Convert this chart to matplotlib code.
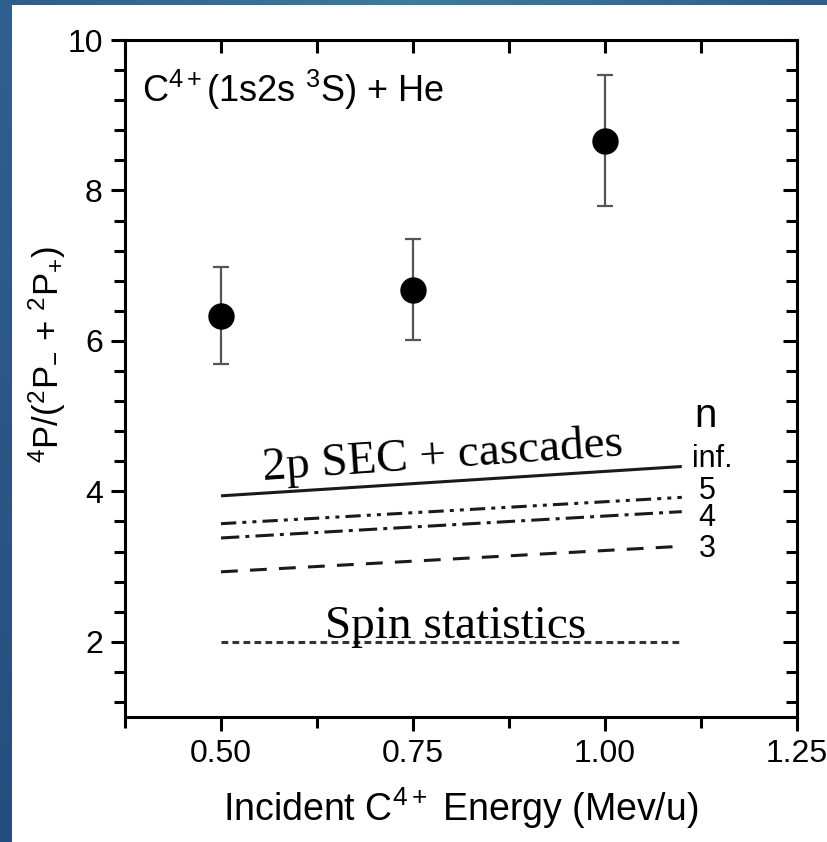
import numpy as np
import matplotlib
matplotlib.use("Agg")
import matplotlib.pyplot as plt
from matplotlib.ticker import MultipleLocator

plt.rcParams['font.family'] = ['Liberation Sans', 'DejaVu Sans']
plt.rcParams['mathtext.fontset'] = 'custom'
plt.rcParams['mathtext.rm'] = 'Liberation Sans'
plt.rcParams['mathtext.it'] = 'Liberation Sans:italic'

# measured ratios
energy = [0.50, 0.75, 1.00]
ratio = [6.33, 6.68, 8.66]
err_low = [5.69, 6.01, 7.79]
err_high = [6.98, 7.35, 9.53]

# theory lines (start / end at 0.5 and 1.1 MeV/u)
line_x = [0.50, 1.10]
line_inf = [3.94, 4.33]
line_n5 = [3.57, 3.92]
line_n4 = [3.38, 3.73]
line_n3 = [2.93, 3.27]
spin_stat = [2.0, 2.0]

n_labels = ["inf.", "5", "4", "3"]
n_label_y = [4.43, 4.01, 3.64, 3.24]

fig = plt.figure(figsize=(8.28, 8.42), dpi=100)

# slide background strips
bg = fig.add_axes([0, 0, 1, 1], zorder=-10)
bg.axis('off')
grad = np.linspace(0, 1, 256).reshape(-1, 1)
bg.imshow(grad, extent=[0, 12, 842, 0], aspect='auto',
          cmap=matplotlib.colors.LinearSegmentedColormap.from_list('l', ['#2f6190', '#264d7f']))
gradx = np.concatenate([np.linspace(0, 1, 128), np.linspace(1, 0, 128)]).reshape(1, -1)
bg.imshow(gradx, extent=[0, 828, 5, 0], aspect='auto',
          cmap=matplotlib.colors.LinearSegmentedColormap.from_list('t', ['#2c5e8e', '#3a7c9e']))
bg.set_xlim(0, 828)
bg.set_ylim(842, 0)

ax = fig.add_axes([125 / 828, 1 - 717 / 842, (797 - 125) / 828, (717 - 40) / 842])

ink = '#1a1a1a'
ax.plot(line_x, line_inf, color=ink, lw=2.2, solid_capstyle='butt')
ax.plot(line_x, line_n5, color=ink, lw=2.2, linestyle=(0, (5, 2, 1.3, 2, 1.3, 2)))
ax.plot(line_x, line_n4, color=ink, lw=2.2, linestyle=(0, (6, 2, 1.3, 2)))
ax.plot(line_x, line_n3, color=ink, lw=2.2, linestyle=(0, (5.5, 4)))
ax.plot(line_x, spin_stat, color='#333333', lw=2.2, linestyle=(0, (2.2, 1.4)))

yerr = [np.array(ratio) - np.array(err_low), np.array(err_high) - np.array(ratio)]
ax.errorbar(energy, ratio, yerr=yerr, fmt='o', color='black', ms=18,
            ecolor='#555555', elinewidth=1.6, capsize=6, capthick=1.6, zorder=5)

ax.set_xlim(0.375, 1.25)
ax.set_ylim(1, 10)
ax.xaxis.set_minor_locator(MultipleLocator(0.125))
ax.yaxis.set_major_locator(MultipleLocator(2))
ax.yaxis.set_minor_locator(MultipleLocator(0.4))
ax.set_xticks([0.50, 0.75, 1.00, 1.25])
ax.set_xticklabels(['0.50', '0.75', '1.00', '1.25'])

for s in ax.spines.values():
    s.set_linewidth(2.2)
ax.tick_params(axis='both', which='major', direction='out', length=10, width=2.2,
               labelsize=23, pad=6, top=False, right=False)
ax.tick_params(axis='both', which='minor', direction='out', length=8, width=2.2,
               top=False, right=False)

# inward ticks on top and right, no labels
top = ax.secondary_xaxis('top')
top.xaxis.set_major_locator(MultipleLocator(0.25))
top.xaxis.set_minor_locator(MultipleLocator(0.125))
top.tick_params(which='both', direction='in', length=9, width=2.2, labeltop=False)
right = ax.secondary_yaxis('right')
right.yaxis.set_major_locator(MultipleLocator(2))
right.yaxis.set_minor_locator(MultipleLocator(0.4))
right.tick_params(which='major', direction='in', length=10, width=2.2, labelright=False)
right.tick_params(which='minor', direction='in', length=8, width=2.2, labelright=False)

ax.set_xlabel("Incident C$^{4+}$ Energy (Mev/u)", fontsize=27, labelpad=12)
ax.set_ylabel("$^{4}$P/($^{2}$P$_{-}$ + $^{2}$P$_{+}$)", fontsize=25)
ax.yaxis.set_label_coords(-0.085, 0.536)

ax.text(0.026, 0.926, "C$^{4+}$(1s2s $^{3}$S) + He", transform=ax.transAxes,
        fontsize=26, va='center', ha='left')

ax.text(0.555, 4.15, "2p SEC + cascades", family=['Liberation Serif'], fontsize=34,
        rotation=3.9, rotation_mode='anchor', ha='left', va='baseline')
ax.text(0.805, 2.05, "Spin statistics", family=['Liberation Serif'], fontsize=34,
        ha='center', va='baseline')

ax.text(1.131, 5.0, "n", fontsize=29, ha='center', va='center')
ax.text(1.1135, n_label_y[0], n_labels[0], fontsize=22, ha='left', va='center')
for lab, yv in zip(n_labels[1:], n_label_y[1:]):
    ax.text(1.133, yv, lab, fontsize=22, ha='center', va='center')

fig.savefig('out.png', dpi=100)
